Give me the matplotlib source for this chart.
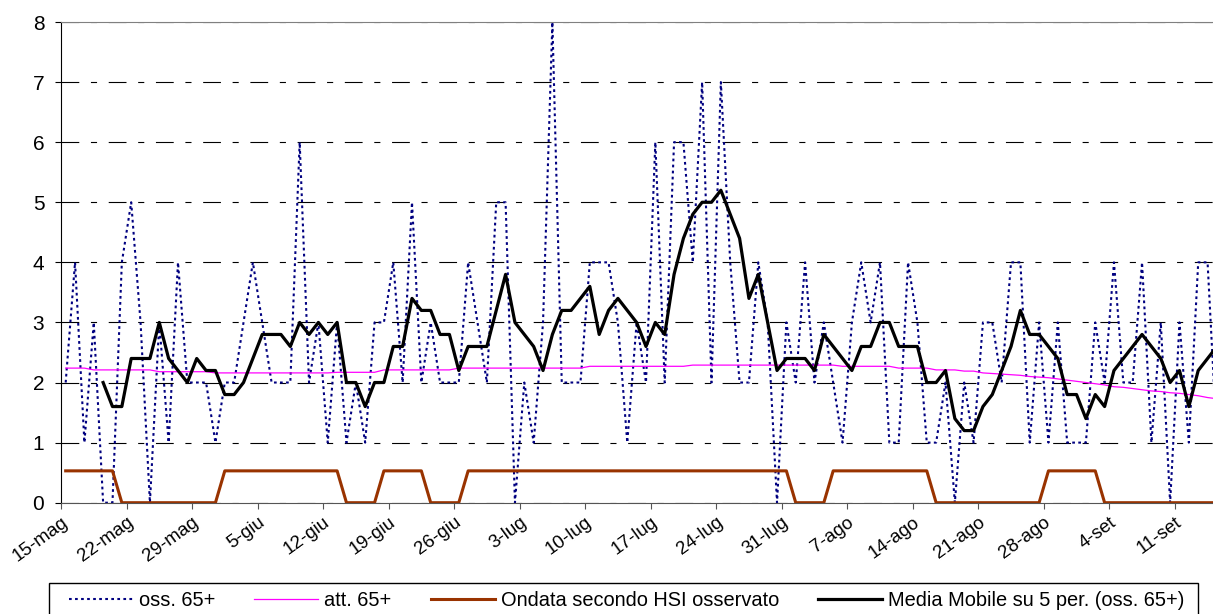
import numpy as np
import matplotlib.pyplot as plt
from matplotlib.patches import Rectangle

plt.rcParams['font.family'] = ['Liberation Sans', 'DejaVu Sans']

# giorni dal 15 maggio, una riga per settimana
oss_65 = [
    2, 4, 1, 3, 0, 0, 4,
    5, 3, 0, 3, 1, 4, 2,
    2, 2, 1, 2, 2, 3, 4,
    3, 2, 2, 2, 6, 2, 3,
    1, 3, 1, 2, 1, 3, 3,
    4, 2, 5, 2, 3, 2, 2,
    2, 4, 3, 2, 5, 5, 0,
    2, 1, 3, 8, 2, 2, 2,
    4, 4, 4, 3, 1, 3, 2,
    6, 2, 6, 6, 4, 7, 2,
    7, 4, 2, 2, 4, 3, 0,
    3, 2, 4, 2, 3, 2, 1,
    3, 4, 3, 4, 1, 1, 4,
    3, 1, 1, 2, 0, 2, 1,
    3, 3, 2, 4, 4, 1, 3,
    1, 3, 1, 1, 1, 3, 2,
    4, 2, 2, 4, 1, 3, 0,
    3, 1, 4, 4, 1,
]

att_65 = [
    2.24, 2.24, 2.24, 2.21, 2.21, 2.21, 2.21,
    2.21, 2.21, 2.21, 2.18, 2.18, 2.18, 2.18,
    2.18, 2.18, 2.16, 2.16, 2.16, 2.16, 2.16,
    2.16, 2.16, 2.16, 2.16, 2.16, 2.16, 2.16,
    2.16, 2.17, 2.17, 2.17, 2.17, 2.17, 2.21,
    2.21, 2.21, 2.21, 2.21, 2.21, 2.21, 2.21,
    2.24, 2.24, 2.24, 2.24, 2.24, 2.24, 2.24,
    2.24, 2.24, 2.24, 2.24, 2.24, 2.24, 2.24,
    2.27, 2.27, 2.27, 2.27, 2.27, 2.27, 2.27,
    2.27, 2.27, 2.27, 2.27, 2.29, 2.29, 2.29,
    2.29, 2.29, 2.29, 2.29, 2.29, 2.29, 2.29,
    2.29, 2.29, 2.29, 2.29, 2.29, 2.29, 2.27,
    2.27, 2.27, 2.27, 2.27, 2.27, 2.24, 2.24,
    2.24, 2.24, 2.21, 2.21, 2.21, 2.19, 2.19,
    2.16, 2.15, 2.14, 2.13, 2.12, 2.10, 2.09,
    2.08, 2.06, 2.04, 2.02, 2.00, 1.98, 1.96,
    1.93, 1.92, 1.90, 1.88, 1.86, 1.85, 1.83,
    1.82, 1.80, 1.78, 1.75, 1.73,
]

ondata_hsi = [
    0.53, 0.53, 0.53, 0.53, 0.53, 0.53, 0,
    0, 0, 0, 0, 0, 0, 0,
    0, 0, 0, 0.53, 0.53, 0.53, 0.53,
    0.53, 0.53, 0.53, 0.53, 0.53, 0.53, 0.53,
    0.53, 0.53, 0, 0, 0, 0, 0.53,
    0.53, 0.53, 0.53, 0.53, 0, 0, 0,
    0, 0.53, 0.53, 0.53, 0.53, 0.53, 0.53,
    0.53, 0.53, 0.53, 0.53, 0.53, 0.53, 0.53,
    0.53, 0.53, 0.53, 0.53, 0.53, 0.53, 0.53,
    0.53, 0.53, 0.53, 0.53, 0.53, 0.53, 0.53,
    0.53, 0.53, 0.53, 0.53, 0.53, 0.53, 0.53,
    0.53, 0, 0, 0, 0, 0.53, 0.53,
    0.53, 0.53, 0.53, 0.53, 0.53, 0.53, 0.53,
    0.53, 0.53, 0, 0, 0, 0, 0,
    0, 0, 0, 0, 0, 0, 0,
    0.53, 0.53, 0.53, 0.53, 0.53, 0.53, 0,
    0, 0, 0, 0, 0, 0, 0,
    0, 0, 0, 0, 0,
]

# media mobile su 5 giorni: i primi 4 giorni non hanno valore
media_mobile = [
    np.nan, np.nan, np.nan, np.nan, 2.0, 1.6, 1.6,
    2.4, 2.4, 2.4, 3.0, 2.4, 2.2, 2.0,
    2.4, 2.2, 2.2, 1.8, 1.8, 2.0, 2.4,
    2.8, 2.8, 2.8, 2.6, 3.0, 2.8, 3.0,
    2.8, 3.0, 2.0, 2.0, 1.6, 2.0, 2.0,
    2.6, 2.6, 3.4, 3.2, 3.2, 2.8, 2.8,
    2.2, 2.6, 2.6, 2.6, 3.2, 3.8, 3.0,
    2.8, 2.6, 2.2, 2.8, 3.2, 3.2, 3.4,
    3.6, 2.8, 3.2, 3.4, 3.2, 3.0, 2.6,
    3.0, 2.8, 3.8, 4.4, 4.8, 5.0, 5.0,
    5.2, 4.8, 4.4, 3.4, 3.8, 3.0, 2.2,
    2.4, 2.4, 2.4, 2.2, 2.8, 2.6, 2.4,
    2.2, 2.6, 2.6, 3.0, 3.0, 2.6, 2.6,
    2.6, 2.0, 2.0, 2.2, 1.4, 1.2, 1.2,
    1.6, 1.8, 2.2, 2.6, 3.2, 2.8, 2.8,
    2.6, 2.4, 1.8, 1.8, 1.4, 1.8, 1.6,
    2.2, 2.4, 2.6, 2.8, 2.6, 2.4, 2.0,
    2.2, 1.6, 2.2, 2.4, 2.6,
]

etichette = ['15-mag', '22-mag', '29-mag', '5-giu', '12-giu', '19-giu',
             '26-giu', '3-lug', '10-lug', '17-lug', '24-lug', '31-lug',
             '7-ago', '14-ago', '21-ago', '28-ago', '4-set', '11-set']

giorni = np.arange(len(oss_65))

W, H = 1213, 614
fig = plt.figure(figsize=(W / 100, H / 100), dpi=100)
ax = fig.add_axes([61 / W, 111.3 / H, 1 - 61 / W, 480.7 / H])

l1, = ax.plot(giorni, oss_65, color='#000080', lw=1.5,
              linestyle=(0, (1.3, 1.6)))
l2, = ax.plot(giorni, att_65, color='#ff00ff', lw=0.9)
l3, = ax.plot(giorni, ondata_hsi, color='#993300', lw=2.2)
l4, = ax.plot(giorni, media_mobile, color='black', lw=2.3)

ax.set_ylim(0, 8)
ax.set_xlim(-0.5, 122.58)
ax.set_yticks(range(9))
ax.yaxis.grid(True, color='black', lw=0.8, linestyle=(0, (16, 10.5, 5.5, 10.5)))
ax.set_axisbelow(True)

tick_pos = np.arange(len(etichette)) * 7 - 0.5
ax.set_xticks(tick_pos)
ax.set_xticklabels(etichette, rotation=36, ha='right', rotation_mode='anchor',
                   fontsize=13.5)
ax.tick_params(axis='x', direction='out', length=4, color='#555555', pad=4)
ax.tick_params(axis='y', direction='out', length=4, labelsize=15, pad=8)

ax.spines['right'].set_visible(False)
ax.spines['top'].set_color('#808080')
ax.spines['left'].set_color('black')
ax.spines['bottom'].set_color('#555555')

# cornice della legenda, aperta sul bordo inferiore
fig.patches.append(Rectangle((49 / W, -0.05), (1198 - 49) / W, 0.05 + 31 / H,
                             transform=fig.transFigure, fill=False,
                             edgecolor='black', lw=1.0))

fig.legend([l1, l2, l3, l4],
           ['oss. 65+', 'att. 65+', 'Ondata secondo HSI osservato',
            'Media Mobile su 5 per. (oss. 65+)'],
           loc='upper left', bbox_to_anchor=(62 / W, 1 - 584 / H),
           ncol=4, fontsize=14.4, frameon=False,
           handlelength=3.2, columnspacing=1.95, handletextpad=0.3,
           borderpad=0.35, borderaxespad=0)

fig.savefig('out.png', dpi=100)
